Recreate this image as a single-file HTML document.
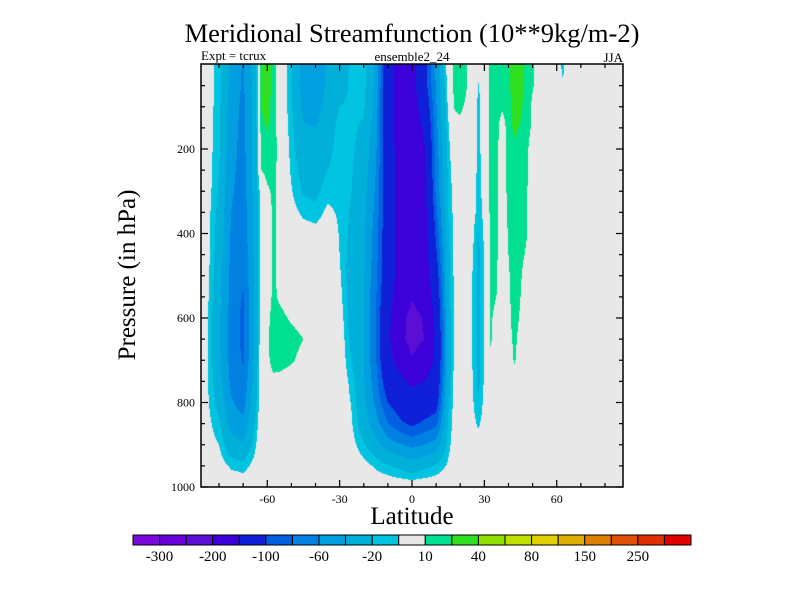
<!DOCTYPE html>
<html><head><meta charset="utf-8">
<style>
body{margin:0;background:#fff;}
#wrap{position:relative;width:800px;height:600px;overflow:hidden;background:#fff;}
canvas,svg{position:absolute;left:0;top:0;}
text{font-family:"Liberation Serif",serif;fill:#000;}
</style></head>
<body>
<div id="wrap">
<canvas id="cv" width="800" height="600"></canvas>
<svg id="sv" width="800" height="600"></svg>
</div>
<script>
const lats=[-90,-85,-80,-75,-70,-65,-62.5,-60,-57.5,-55,-50,-45,-40,-35,-30,-25,-20,-15,-10,-5,0,5,10,15,17.5,20,22.5,25,27.5,30,32.5,35,37.5,40,42.5,45,47.5,50,55,60,62.5,65,70,75,80,85,90];
const pres=[0,50,100,150,200,250,300,350,400,450,500,550,600,650,700,750,800,850,900,950,1000];
const Z=new Array(21).fill(0);
const psi=[
Z,
[-3,-3,-3,-3,-3,-3,-3,-4,-4,-4,-5,-6,-8,-8,-8,-8,-7,-5,-3,0,0],
[-15,-15,-16,-17,-18,-20,-22,-25,-28,-30,-32,-35,-37,-38,-36,-32,-26,-18,-10,-3,0],
[-45,-47,-50,-52,-53,-55,-57,-60,-62,-64,-65,-66,-68,-68,-67,-64,-58,-48,-32,-12,0],
[-62,-63,-65,-66,-67,-68,-70,-72,-74,-76,-78,-82,-85,-85,-82,-76,-68,-55,-38,-15,0],
[-30,-30,-30,-30,-30,-30,-31,-32,-33,-34,-35,-35,-35,-35,-33,-30,-25,-18,-12,-5,0],
[22,22,20,17,12,10,-2,-4,-5,-5,-5,-5,-3,0,0,0,0,0,0,0,0],
[30,28,25,21,16,14,8,4,2,2,2,3,5,8,6,2,0,0,0,0,0],
[15,15,14,14,14,13,12,12,12,12,12,13,16,18,16,6,0,0,0,0,0],
[5,5,5,6,7,7,7,7,7,7,7,8,14,18,16,5,0,0,0,0,0],
[-18,-20,-18,-16,-14,-12,-9,-5,-1,0,0,2,8,15,12,2,0,0,0,0,0],
[-50,-50,-45,-38,-32,-27,-22,-13,-3,0,0,0,4,10,5,0,0,0,0,0,0],
[-52,-52,-48,-40,-32,-28,-24,-16,-5,0,0,0,0,0,0,0,0,0,0,0,0],
[-38,-36,-33,-28,-24,-20,-14,-7,0,0,0,0,0,0,0,0,0,0,0,0,0],
[-26,-25,-20,-15,-15,-14,-13,-12,-11,-10,-8,-5,-2,0,0,0,0,0,0,0,0],
[-18,-18,-18,-18,-18,-19,-20,-22,-24,-27,-30,-30,-28,-25,-20,-14,-11,-9,-5,-2,0],
[-15,-15,-18,-22,-26,-30,-33,-35,-36,-37,-38,-40,-40,-40,-40,-38,-35,-30,-18,-5,0],
[-45,-45,-48,-52,-56,-60,-63,-66,-70,-72,-75,-78,-80,-80,-78,-72,-65,-52,-32,-12,0],
[-135,-135,-132,-130,-128,-127,-126,-125,-125,-125,-125,-130,-138,-140,-135,-120,-100,-78,-50,-18,0],
[-165,-165,-166,-167,-168,-168,-168,-168,-168,-168,-168,-175,-190,-190,-165,-140,-115,-95,-58,-24,0],
[-168,-168,-170,-175,-178,-180,-182,-185,-188,-190,-192,-198,-210,-212,-198,-158,-130,-105,-65,-30,0],
[-112,-115,-130,-145,-155,-160,-165,-168,-170,-172,-175,-185,-198,-200,-180,-150,-122,-95,-60,-24,0],
[-55,-58,-62,-66,-70,-72,-75,-85,-95,-105,-118,-128,-138,-142,-140,-130,-115,-85,-50,-18,0],
[-2,-3,-8,-12,-15,-17,-18,-20,-22,-24,-25,-27,-28,-30,-30,-28,-22,-18,-14,-8,0],
[14,13,10.5,6,2,-2,-5,-6,-7,-7,-8,-8,-8,-8,-8,-7,-6,-5,-4,-2,0],
[18,17,12,7,3,0,0,0,0,0,0,0,0,0,0,0,0,0,0,0,0],
[12,11,8,3,0,0,0,0,0,0,0,0,0,0,0,0,0,0,0,0,0],
[0,0,0,0,-2,-3,-4,-5,-6,-8,-10,-10.5,-10.5,-10.5,-10,-9,-8,-6,-3,0,0],
[-5,-11,-12,-12,-12,-13,-13,-14,-21,-24,-24,-24,-24,-24,-24,-24,-18,-12,-4,0,0],
[-2,-4,-5,-5,-6,-6,-7,-7,-8,-8,-9,-9,-9,-9,-9,-8,-7,-5,-2,0,0],
[14,14,13,13,13,13,13,13,12,12,12,12,11,11,8,2,0,0,0,0,0],
[16,16,15,14,14,14,13,13,12,12,11,10,8,7,3,0,0,0,0,0,0],
[15,15,12,3,2,2,2,2,2,2,2,2,2,1,0,0,0,0,0,0,0],
[18,18,17,16,16,15,14,13,11,10,9,8.5,8,7,5,2,0,0,0,0,0],
[25,25,24,22,18,17,16,15,15,14,14,13.5,13,12,11,6,1,0,0,0,0],
[24,24,22,19,16,15,15,14,14,12,11,10,9,7,5,2,0,0,0,0,0],
[16,16,15,14,12,12,11,10.5,10.5,9,6,4,3,2,1,0,0,0,0,0,0],
[11,11,8,8,5,4,3,3,3,2,1,0,0,0,0,0,0,0,0,0,0],
Z,Z,
[-14,-8,0,0,0,0,0,0,0,0,0,0,0,0,0,0,0,0,0,0,0],
Z,Z,Z,Z,Z,Z];
const levels=[-300,-250,-200,-150,-100,-80,-60,-40,-20,-10,10,20,40,60,80,100,150,200,250,300];
const colors=["#7a0adc","#6a00d8","#5a10d4","#3c00d8","#1020d8","#0060e0","#0080e0","#00a0e0","#00b0d8","#00c4e0","#e8e8e8","#00e090","#30e020","#90e000","#c0e000","#e0d000","#e0b000","#e08000","#e05000","#e03000","#e00000"];
const barLabels=["-300","-200","-100","-60","-20","10","40","80","150","250"];
const xTicks=[-60,-30,0,30,60];
const yTicks=[200,400,600,800,1000];

const L=201,R=623,T=64,B=487;
const xs=lat=>412+lat*2.412;
const ys=p=>64.5+p*0.4225;
const latOf=x=>(x-412)/2.412;
const pOf=y=>(y-64.5)/0.4225;
function idx(arr,v){let i=0;while(i<arr.length-2&&arr[i+1]<v)i++;return i;}
function val(lat,p){
  const i=idx(lats,lat),j=idx(pres,p);
  let a=(lat-lats[i])/(lats[i+1]-lats[i]),b=(p-pres[j])/(pres[j+1]-pres[j]);
  a=Math.max(0,Math.min(1,a));b=Math.max(0,Math.min(1,b));
  const v00=psi[i][j],v10=psi[i+1][j],v01=psi[i][j+1],v11=psi[i+1][j+1];
  return v00*(1-a)*(1-b)+v10*a*(1-b)+v01*(1-a)*b+v11*a*b;
}
function colorOf(v){let k=0;while(k<levels.length&&v>=levels[k])k++;return colors[k];}
const ctx=document.getElementById('cv').getContext('2d');
for(let x=L;x<R;x++){for(let y=T;y<B;y++){
  ctx.fillStyle=colorOf(val(latOf(x+0.5),pOf(y+0.5)));ctx.fillRect(x,y,1,1);}}

const NS="http://www.w3.org/2000/svg";
const sv=document.getElementById('sv');
function mk(tag,attrs,parent){const e=document.createElementNS(NS,tag);for(const k in attrs)e.setAttribute(k,attrs[k]);(parent||sv).appendChild(e);return e;}
function txt(s,attrs){const e=mk('text',attrs);e.textContent=s;return e;}
let e;
e=mk('rect',{x:L,y:T,width:R-L,height:B-T,fill:'none',stroke:'#000','stroke-width':1.5});


for(let lat=-80;lat<=80;lat+=10){
  const x=xs(lat),maj=(lat%30===0),len=maj?7:4;
  e=mk('line',{x1:x,x2:x,y1:B,y2:B-len,stroke:'#000','stroke-width':1.2});
  
  
  e=mk('line',{x1:x,x2:x,y1:T,y2:T+len,stroke:'#000','stroke-width':1.2});
  
  
}
xTicks.forEach(t=>{e=txt(String(t),{x:xs(t),y:503,'font-size':12,'text-anchor':'middle'});
  
  });
for(let p=50;p<=1000;p+=50){
  const y=ys(p),maj=(p%200===0),len=maj?7:4;
  e=mk('line',{x1:L,x2:L+len,y1:y,y2:y,stroke:'#000','stroke-width':1.2});
  
  
  e=mk('line',{x1:R,x2:R-len,y1:y,y2:y,stroke:'#000','stroke-width':1.2});
  
  
}
yTicks.forEach(t=>{e=txt(String(t),{x:195,y:ys(t)+4,'font-size':12,'text-anchor':'end'});
  
  });
const cbL=133,cbR=691,cbT=535,cbB=545,n=colors.length,w=(cbR-cbL)/n;
colors.forEach((c,k)=>{e=mk('rect',{x:cbL+k*w,y:cbT,width:w,height:cbB-cbT,fill:c,stroke:'#000','stroke-width':1});
  
  });
barLabels.forEach((s,k)=>{e=txt(s,{x:cbL+(2*k+1)*w,y:561,'font-size':15,'text-anchor':'middle'});
  
  });
</script>
<svg width="800" height="600" style="position:absolute;left:0;top:0">
<text x="412" y="42" font-size="26.5" text-anchor="middle">Meridional Streamfunction (10**9kg/m-2)</text>
<text x="201" y="60" font-size="13">Expt = tcrux</text>
<text x="412" y="61" font-size="13" text-anchor="middle">ensemble2_24</text>
<text x="623" y="62" font-size="13" text-anchor="end">JJA</text>
<text x="412" y="524" font-size="25" text-anchor="middle">Latitude</text>
<text x="135" y="275" font-size="25" text-anchor="middle" transform="rotate(-90 135 275)">Pressure (in hPa)</text>
</svg>
</body></html>
